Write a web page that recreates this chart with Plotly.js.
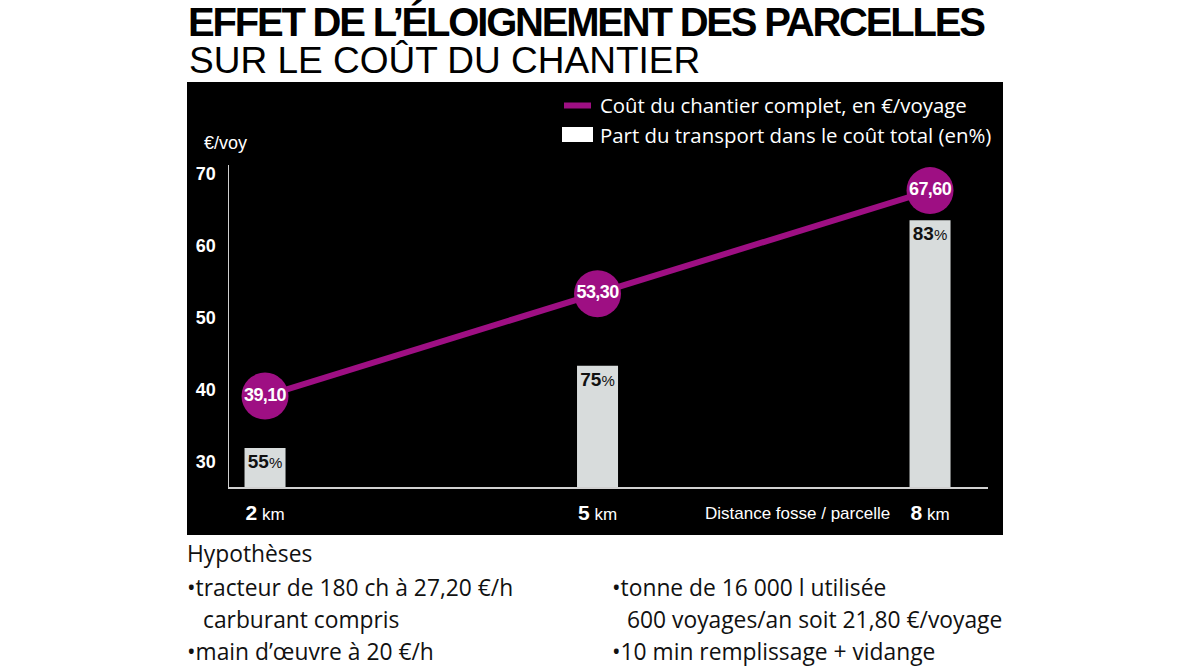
<!DOCTYPE html>
<html>
<head>
<meta charset="utf-8">
<script src="https://cdn.plot.ly/plotly-3.0.1.min.js"></script>
<style>html,body{margin:0;padding:0;background:#fff;}#chart{width:1191px;height:670px;}</style>
</head>
<body>
<div id="chart"></div>
<script>
// ---- data ----
const distances = [2, 5, 8];                 // km
const costPerTrip = [39.10, 53.30, 67.60];   // €/voyage
const transportShare = [55, 75, 83];         // % of total cost (bar labels)
const barHeights = [31.9, 43.3, 63.5];       // bar tops as drawn, read on €/voy axis
const yTicks = [30, 40, 50, 60, 70];
const xTickLabels = ['2', '5', '8'];

// ---- geometry helpers (pixel -> paper) ----
const W = 1191, Hh = 670;
const L = 229, R = 988, T = 165, B = 487;
const pw = R - L, ph = B - T;
const px = x => (x - L) / pw;
const py = y => (B - y) / ph;

const NARROW = '"Liberation Sans Narrow", "Arial Narrow", "Liberation Sans", Arial, sans-serif';
const HUM = '"Open Sans", Lato, sans-serif';
const PURPLE = '#9e0f83';

const fmt = v => v.toFixed(2).replace('.', ',');

const bars = {
  type: 'bar',
  x: distances,
  y: barHeights,
  width: 0.37,
  marker: {color: '#d8dcdc', line: {width: 0}},
  text: transportShare.map(p => '<b>' + p + '</b><span style="font-size:15px">%</span>'),
  textposition: 'inside',
  insidetextanchor: 'end',
  textangle: 0,
  constraintext: 'none',
  textfont: {family: NARROW, size: 19, color: '#111'},
  hoverinfo: 'skip',
  showlegend: false
};

const line = {
  type: 'scatter',
  mode: 'lines+markers+text',
  x: distances,
  y: costPerTrip,
  line: {color: PURPLE, width: 6},
  marker: {color: PURPLE, size: 47},
  text: costPerTrip.map(v => '<b><span style="letter-spacing:-0.6px">' + fmt(v) + '</span></b>'),
  textposition: 'middle center',
  textfont: {family: NARROW, size: 18, color: '#fff'},
  cliponaxis: false,
  showlegend: false
};

const ann = [];
function txt(x, y, text, size, opts) {
  ann.push(Object.assign({
    xref: 'paper', yref: 'paper', x: px(x), y: py(y), text: text,
    showarrow: false, xanchor: 'left', yanchor: 'middle',
    font: {family: HUM, size: size, color: '#111'}
  }, opts || {}));
}

// Titles
txt(186, 22, '<b><span style="letter-spacing:-2.2px">EFFET DE L\u2019ÉLOIGNEMENT DES PARCELLES</span></b>', 40, {font: {family: NARROW, size: 40, color: '#000'}});
txt(187, 60, 'SUR LE COÛT DU CHANTIER', 37, {font: {family: NARROW, size: 37, color: '#000'}});

// axis title and x label
txt(202, 143, '€/voy', 18, {font: {family: NARROW, size: 18, color: '#fff'}});
txt(797, 513, 'Distance fosse / parcelle', 17, {xanchor: 'center', font: {family: NARROW, size: 17, color: '#fff'}});

// legend
txt(598, 105, 'Coût du chantier complet, en €/voyage', 20, {font: {family: HUM, size: 20.4, color: '#fff'}});
txt(598, 135, 'Part du transport dans le coût total (en%)', 20, {font: {family: HUM, size: 20.4, color: '#fff'}});

// Hypothèses
const HS = 22.8;
txt(185, 553, 'Hypothèses', HS);
txt(185, 587, '•tracteur de 180 ch à 27,20 €/h', HS);
txt(201, 619, 'carburant compris', HS);
txt(185, 651, '•main d\u2019œuvre à 20 €/h', HS);
txt(610, 587, '•tonne de 16 000 l utilisée', HS);
txt(625, 619, '600 voyages/an soit 21,80 €/voyage', HS);
txt(610, 651, '•10 min remplissage + vidange', HS);

const shapes = [
  {type: 'rect', xref: 'paper', yref: 'paper', layer: 'below',
   x0: px(187), x1: px(1003), y0: py(535), y1: py(82),
   fillcolor: '#000', line: {width: 0}},
  {type: 'line', xref: 'paper', yref: 'paper', layer: 'above',
   x0: px(564), x1: px(591), y0: py(105.5), y1: py(105.5),
   line: {color: PURPLE, width: 6}},
  {type: 'rect', xref: 'paper', yref: 'paper', layer: 'above',
   x0: px(562), x1: px(593), y0: py(142), y1: py(127),
   fillcolor: '#fff', line: {width: 0}}
];

const layout = {
  width: W, height: Hh,
  margin: {l: L, r: W - R, t: T, b: Hh - B, pad: 0},
  paper_bgcolor: '#fff',
  plot_bgcolor: '#000',
  showlegend: false,
  xaxis: {
    range: [1.675, 8.523], showgrid: false, zeroline: false,
    showline: true, linecolor: '#d0d0d0', linewidth: 1.5,
    ticks: '', tickvals: distances,
    ticktext: xTickLabels.map(t => '<span style="font-weight:bold;font-size:21px">' + t + '</span> km'),
    tickfont: {family: NARROW, size: 17, color: '#fff'},
    ticklabelstandoff: 11, fixedrange: true
  },
  yaxis: {
    range: [26.49, 71.15], showgrid: false, zeroline: false,
    showline: true, linecolor: '#d0d0d0', linewidth: 1.5,
    ticks: '', tickvals: yTicks,
    tickfont: {family: NARROW, size: 18, color: '#fff', weight: 'bold'},
    ticklabelstandoff: 8, fixedrange: true
  },
  annotations: ann,
  shapes: shapes
};

Plotly.newPlot('chart', [bars, line], layout, {staticPlot: true, displayModeBar: false});
</script>
</body>
</html>
